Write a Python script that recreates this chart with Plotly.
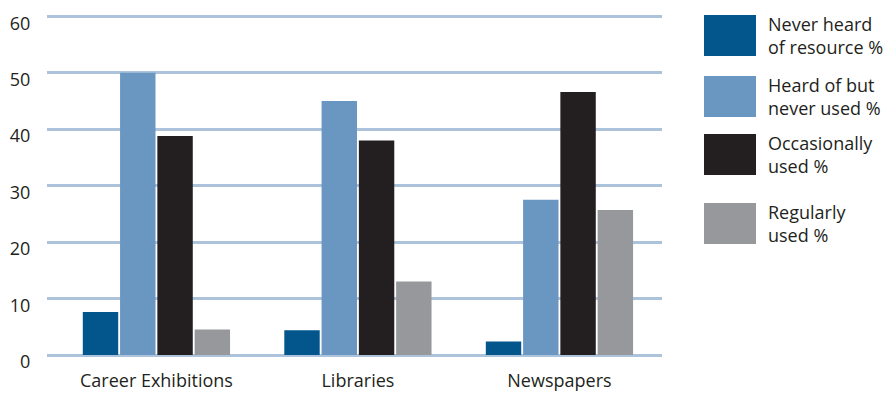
import plotly.graph_objects as go

# Survey results: awareness and use of career information resources
categories = ["Career Exhibitions", "Libraries", "Newspapers"]
series_names = [
    "Never heard<br>of resource %",
    "Heard of but<br>never used %",
    "Occasionally<br>used %",
    "Regularly<br>used %",
]
never_heard = [7.6, 4.4, 2.4]
heard_not_used = [50.0, 45.0, 27.5]
occasionally = [38.8, 38.0, 46.6]
regularly = [4.5, 13.0, 25.7]
y_ticks = [0, 10, 20, 30, 40, 50, 60]

values = [never_heard, heard_not_used, occasionally, regularly]
colors = ["#02568c", "#6a96c2", "#231f20", "#97989c"]

W, H = 887, 394
L, R, T, B = 47, 225, 14, 37
Y_MAX = 60.4
FONT = "Open Sans"
TEXT = "#231f20"

fig = go.Figure()
xs = list(range(len(categories)))
for name, vals, col in zip(series_names, values, colors):
    fig.add_trace(go.Bar(
        x=xs, y=vals, name=name.replace("<br>", " "),
        marker=dict(color=col, line=dict(width=0)),
        showlegend=False,
    ))

# Custom legend on the right: colour swatches with two-line labels
pw, ph = W - L - R, H - T - B
def px_x(p):
    return (p - L) / pw
def px_y(p):
    return (H - B - p) / ph

swatch_tops = [15, 76, 134, 203]
shapes = []
annotations = []
for top, name, col in zip(swatch_tops, series_names, colors):
    shapes.append(dict(
        type="rect", xref="paper", yref="paper",
        x0=px_x(704), x1=px_x(756), y0=px_y(top + 41), y1=px_y(top),
        fillcolor=col, line=dict(width=0),
    ))
    annotations.append(dict(
        xref="paper", yref="paper", x=px_x(766), y=px_y(top + 20.5),
        xanchor="left", yanchor="middle", align="left", showarrow=False,
        text=name, font=dict(family=FONT, size=18, color=TEXT),
    ))

fig.update_layout(
    width=W, height=H,
    margin=dict(l=L, r=R, t=T, b=B, autoexpand=False),
    paper_bgcolor="white", plot_bgcolor="white",
    barmode="group", bargap=0.26, bargroupgap=0.05,
    shapes=shapes, annotations=annotations,
    font=dict(family=FONT, color=TEXT),
)
fig.update_xaxes(
    tickmode="array", tickvals=xs, ticktext=categories,
    range=[-0.543, 2.509], showgrid=False, zeroline=False,
    showline=False, ticks="outside", ticklen=7, tickcolor="rgba(0,0,0,0)",
    tickfont=dict(family=FONT, size=18, color=TEXT), automargin=False,
)
fig.update_yaxes(
    range=[-0.35, Y_MAX], tickmode="array", tickvals=y_ticks,
    showgrid=True, gridcolor="#adc3dc", gridwidth=2.5,
    zeroline=True, zerolinecolor="#adc3dc", zerolinewidth=2.5,
    showline=False, ticks="outside", ticklen=12, tickcolor="rgba(0,0,0,0)",
    ticklabelshift=7, ticklabeloverflow="allow", automargin=False,
    tickfont=dict(family=FONT, size=18, color=TEXT),
)

fig.write_html("out.html")
